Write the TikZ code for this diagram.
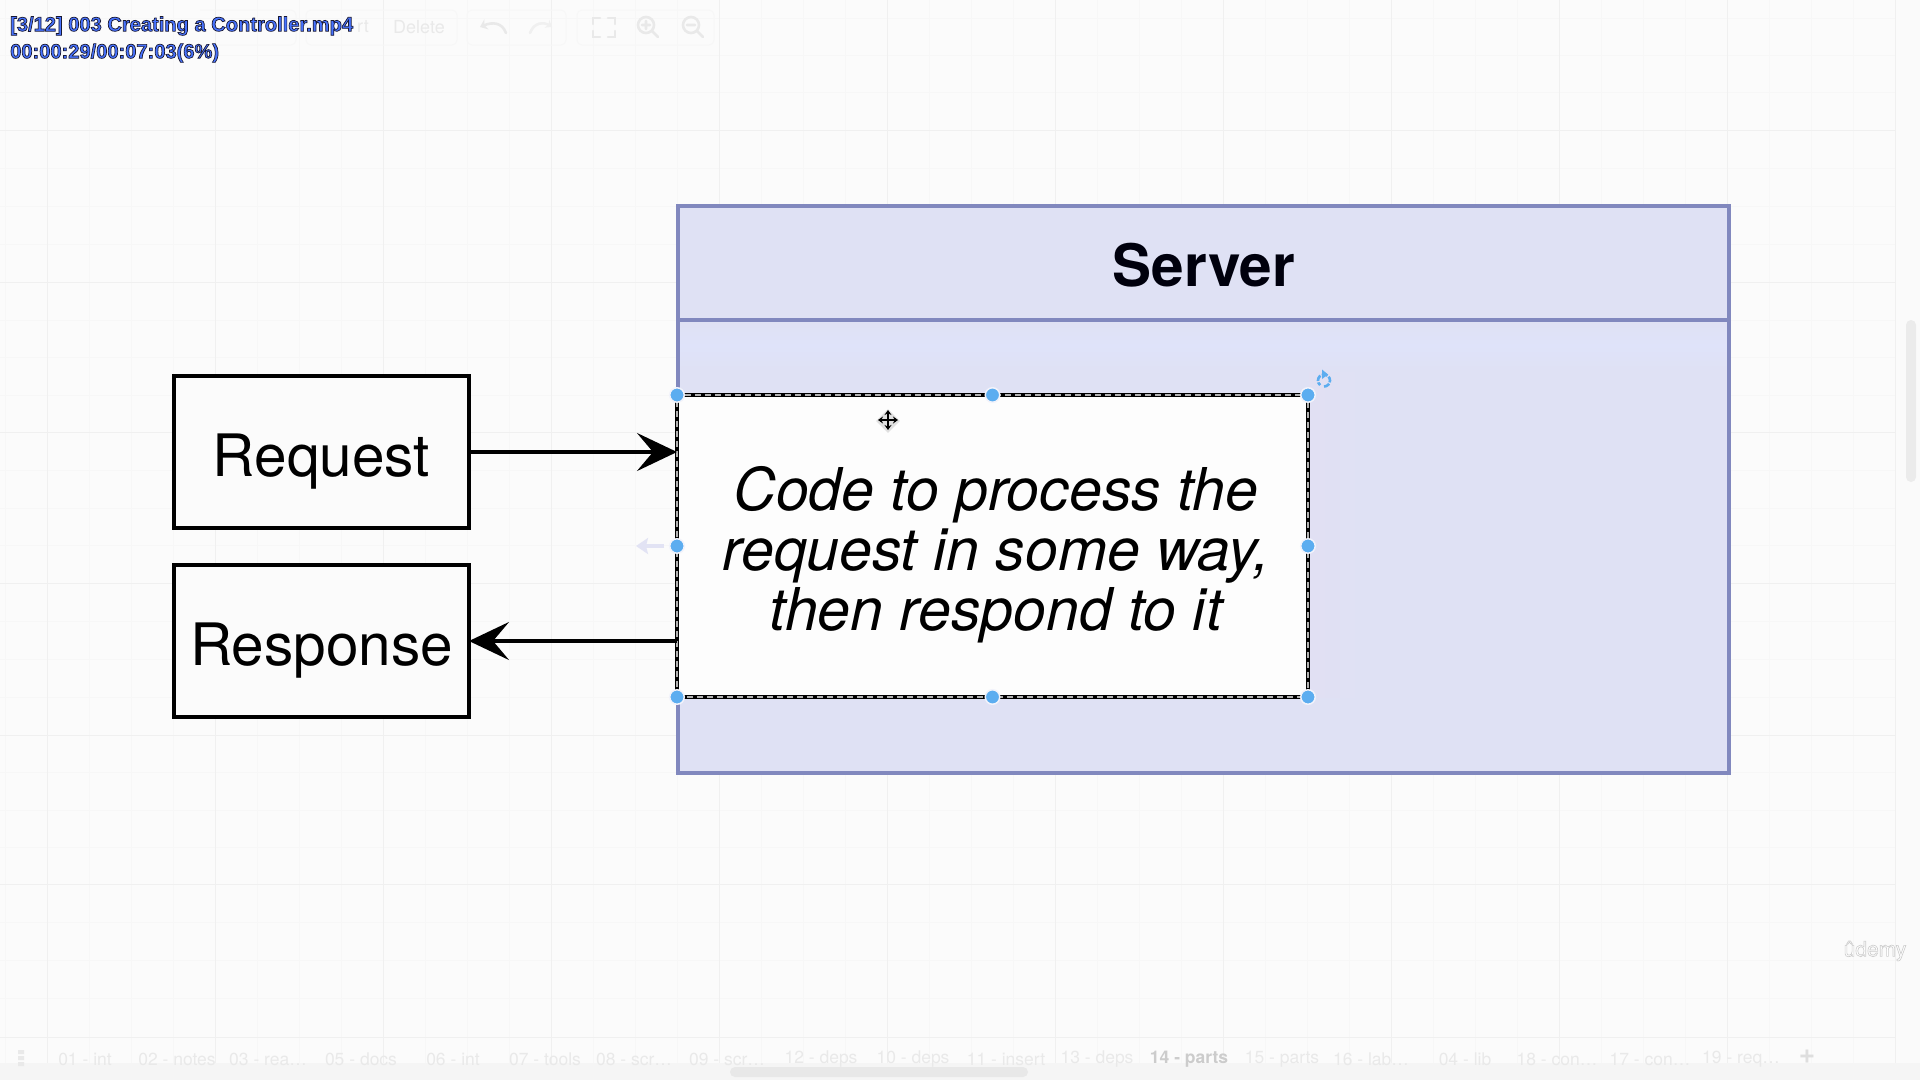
\documentclass[tikz,border=0pt]{standalone}
\usepackage{fontspec}
\setmainfont{TeX Gyre Heros}
\newfontfamily\overlayfont[FakeBold=3.5]{Liberation Sans Bold}
\newfontfamily\logofont[FakeBold=3]{TeX Gyre Heros}
\usetikzlibrary{arrows.meta,shapes.geometric}
\definecolor{bgc}{HTML}{FBFBFB}
\definecolor{gridmaj}{HTML}{F0F0F0}
\definecolor{gridmin}{HTML}{F7F7F7}
\definecolor{srvfill}{HTML}{DFE1F4}
\definecolor{srvband}{HTML}{DFE3FA}
\definecolor{srvmauve}{HTML}{E1E0F3}
\definecolor{srvline}{HTML}{8188BE}
\definecolor{handle}{HTML}{5CADF0}
\definecolor{faint}{HTML}{E9E9E9}
\definecolor{ghost}{HTML}{E2E3F4}
\tikzset{
  x=1pt,y=-1pt,
  plainbox/.style={draw=black,line width=3.2pt,outer sep=0pt,fill=bgc,minimum width=295pt,minimum height=152pt,inner sep=0pt,font=\fontsize{58.5}{60}\selectfont},
  flow/.style={draw=black,line width=3.2pt,-{Stealth[length=40pt,width=38pt,inset=16pt]}},
  grip/.style={circle,fill=handle,draw=white!60!srvfill,line width=1.5pt,minimum size=14.5pt,inner sep=0pt},
  tablabel/.style={text=faint,font=\fontsize{17.5}{18}\selectfont,inner sep=0pt},
  toollabel/.style={text=faint,font=\fontsize{18}{18}\selectfont,inner sep=0pt},
  toolicon/.style={draw=faint,line width=2.6pt,line cap=round},
  toolbox/.style={draw=black!3,line width=1pt,rounded corners=5pt},
  overlay text/.style={inner sep=0pt,anchor=west,font=\overlayfont\fontsize{20.1}{21}\selectfont}
}
\newcommand{\duotone}[1]{\special{pdf:bcolor [0.28 0.45 1] [0.10 0.10 0.20]}#1\special{pdf:ecolor}}
\newcommand{\logotone}[1]{\special{pdf:bcolor [1 1 1] [0.80 0.80 0.80]}#1\special{pdf:ecolor}}
\newcommand{\lowered}[1]{\raisebox{-24pt}[0pt][0pt]{#1}}
\begin{document}
\begin{tikzpicture}
\useasboundingbox (0,0) rectangle (1920,1080);
\fill[bgc] (0,0) rectangle (1920,1080);
% grid
\foreach \gx in {5,47,89,131,173,215,257,299,341,383,425,467,509,551,593,635,677,719,761,803,845,887,929,971,1013,1055,1097,1139,1181,1223,1265,1307,1349,1391,1433,1475,1517,1559,1601,1643,1685,1727,1769,1811,1853,1895}
  \draw[gridmin,line width=1pt] (\gx,0) -- (\gx,1063);
\foreach \gy in {18,55,92,130,168,206,244,282,320,357,395,432,470,508,545,583,621,659,697,735,772,810,847,884,922,960,998,1037}
  \draw[gridmin,line width=1pt] (0,\gy) -- (1895,\gy);
\foreach \gx in {47,215,383,551,719,887,1055,1223,1391,1559,1727,1895}
  \draw[gridmaj,line width=1pt] (\gx,0) -- (\gx,1063);
\foreach \gy in {130,282,432,583,735,884,1037}
  \draw[gridmaj,line width=1pt] (0,\gy) -- (1895,\gy);
% bottom bar and scrollbars
\fill[black!2] (1900,0) rectangle (1920,1063);
\fill[black!4] (0,1063) rectangle (1920,1080);
\fill[black!9,rounded corners=5pt] (730,1067) rectangle (1028,1077);
\fill[black!8,rounded corners=5pt] (1906,320) rectangle (1916,482);
% toolbar
\draw[toolbox] (200,10) -- (296,10) -- (296,45) -- (200,45);
\draw[toolbox] (306,10) rectangle (457,45);
\draw[toolbox] (467,10) rectangle (566,45);
\draw[toolbox] (577,10) rectangle (714,45);
\node[toollabel] (tbrt) at (363,27) {rt};
\node[toollabel] (tbdel) at (419,27) {Delete};
\draw[toolicon,-{Stealth[length=7pt,width=11pt]}] (506,33) .. controls (502,22) and (492,22) .. (480,27);
\draw[toolicon,draw=gridmaj,-{Stealth[length=6pt,width=9pt]}] (530,33) .. controls (534,22) and (544,22) .. (552,27);
\draw[toolicon] (593,24) -- (593,18) -- (600,18) (608,18) -- (615,18) -- (615,24) (615,31) -- (615,37) -- (608,37) (600,37) -- (593,37) -- (593,31);
\draw[toolicon] (646,25) circle[radius=8] (652,31) -- (658,37) (642,25) -- (650,25) (646,21) -- (646,29);
\draw[toolicon] (691,25) circle[radius=8] (697,31) -- (703,37) (687,25) -- (695,25);
% tabs
\fill[faint] (18,1050) rectangle (24,1054) (18,1056) rectangle (24,1060) (18,1062) rectangle (24,1066);
\foreach \tx/\tt/\tn in {85/01 - int/a,177/02 - notes/b,268/03 - rea\dots/c,361/05 - docs/d,453/06 - int/e,545/07 - tools/f,634/08 - scr\dots/g,727/09 - scr\dots/h,821/12 - deps/i,913/10 - deps/j,1006/11 - insert/k,1097/13 - deps/l,1282/15 - parts/n,1371/16 - lab\dots/o,1465/04 - lib/p,1557/18 - con\dots/q,1650/17 - con\dots/r,1741/19 - req\dots/s}
  \node[tablabel] (tab\tn) at (\tx,1059) {\tt};
\node[tablabel,text=black!20,font=\bfseries\fontsize{17.5}{18}\selectfont] (tabm) at (1189,1059) {14 - parts};
\node[tablabel,text=black!13,font=\bfseries\fontsize{28}{28}\selectfont] (tabplus) at (1807,1057) {+};
% server
\fill[srvfill] (678,206) rectangle (1729,773);
\shade[top color=srvfill,bottom color=srvband] (678,322) rectangle (1729,345);
\shade[top color=srvband,bottom color=srvfill] (678,345) rectangle (1729,372);
\shade[left color=srvmauve,right color=srvfill] (1309,372) rectangle (1370,697);
\draw[srvline,line width=4pt] (678,206) rectangle (1729,773);
\draw[srvline,line width=3.5pt] (678,320) -- (1729,320);
\node[anchor=base,inner sep=0pt,font=\bfseries\fontsize{58.5}{60}\selectfont,text=black!95!blue] (server) at (1204,286) {Server};
% ghost arrow
\draw[ghost,line width=4pt,-{Stealth[length=12pt,width=16pt,inset=2pt]}] (664,546) -- (636,546);
% request and response
\node[plainbox] (request) at (321.5,452) {\lowered{Request}};
\node[plainbox] (response) at (321.5,641) {\lowered{Response}};
% code box
\node[draw=black,line width=3.2pt,outer sep=0pt,fill=white!60!bgc,minimum width=631pt,minimum height=302pt,inner sep=0pt] (code) at (992.5,546) {};
\node[inner sep=0pt,align=center,font=\itshape\fontsize{59}{60}\selectfont] (codetext) at (996,554.5) {Code to process the\\request in some way,\\then respond to it};
\draw[white!70!black,line width=1.4pt,dash pattern=on 6pt off 4pt] (code.south west) rectangle (code.north east);
\coordinate (reqin) at (code.west |- request.east);
\coordinate (resout) at (code.west |- response.east);
\draw[flow] (request.east) -- (reqin);
\draw[flow] (resout) -- (response.east);
% handles
\node[grip] (h1) at (code.north west) {};
\node[grip] (h2) at (code.north) {};
\node[grip] (h3) at (code.north east) {};
\node[grip] (h4) at (code.west) {};
\node[grip] (h5) at (code.east) {};
\node[grip] (h6) at (code.south west) {};
\node[grip] (h7) at (code.south) {};
\node[grip] (h8) at (code.south east) {};
% rotate icon
\draw[handle,line width=2.6pt,dash pattern=on 6pt off 1.5pt] (1324,386.5) arc[start angle=90,end angle=-230,radius=6];
\fill[handle] (1322,369.5) -- (1328,374.5) -- (1322,379) -- cycle;
% move cursor
\node[diamond,fill=black!12,inner sep=0pt,minimum size=24pt] (movebg) at (888,421) {};
\draw[black,line width=1.6pt,{Stealth[length=5pt,width=7pt]}-{Stealth[length=5pt,width=7pt]}] (878,420) -- (898,420);
\draw[black,line width=1.6pt,{Stealth[length=5pt,width=7pt]}-{Stealth[length=5pt,width=7pt]}] (888,410) -- (888,430);
% overlays
\node[overlay text] (clip) at (10,26) {\duotone{[3/12] 003 Creating a Controller.mp4}};
\node[overlay text] (clock) at (10,53) {\duotone{00:00:29/00:07:03(6\%)}};
\node[inner sep=0pt,font=\logofont\fontsize{21}{21}\selectfont] (logo) at (1875,951) {\logotone{ûdemy}};
\end{tikzpicture}
\end{document}
